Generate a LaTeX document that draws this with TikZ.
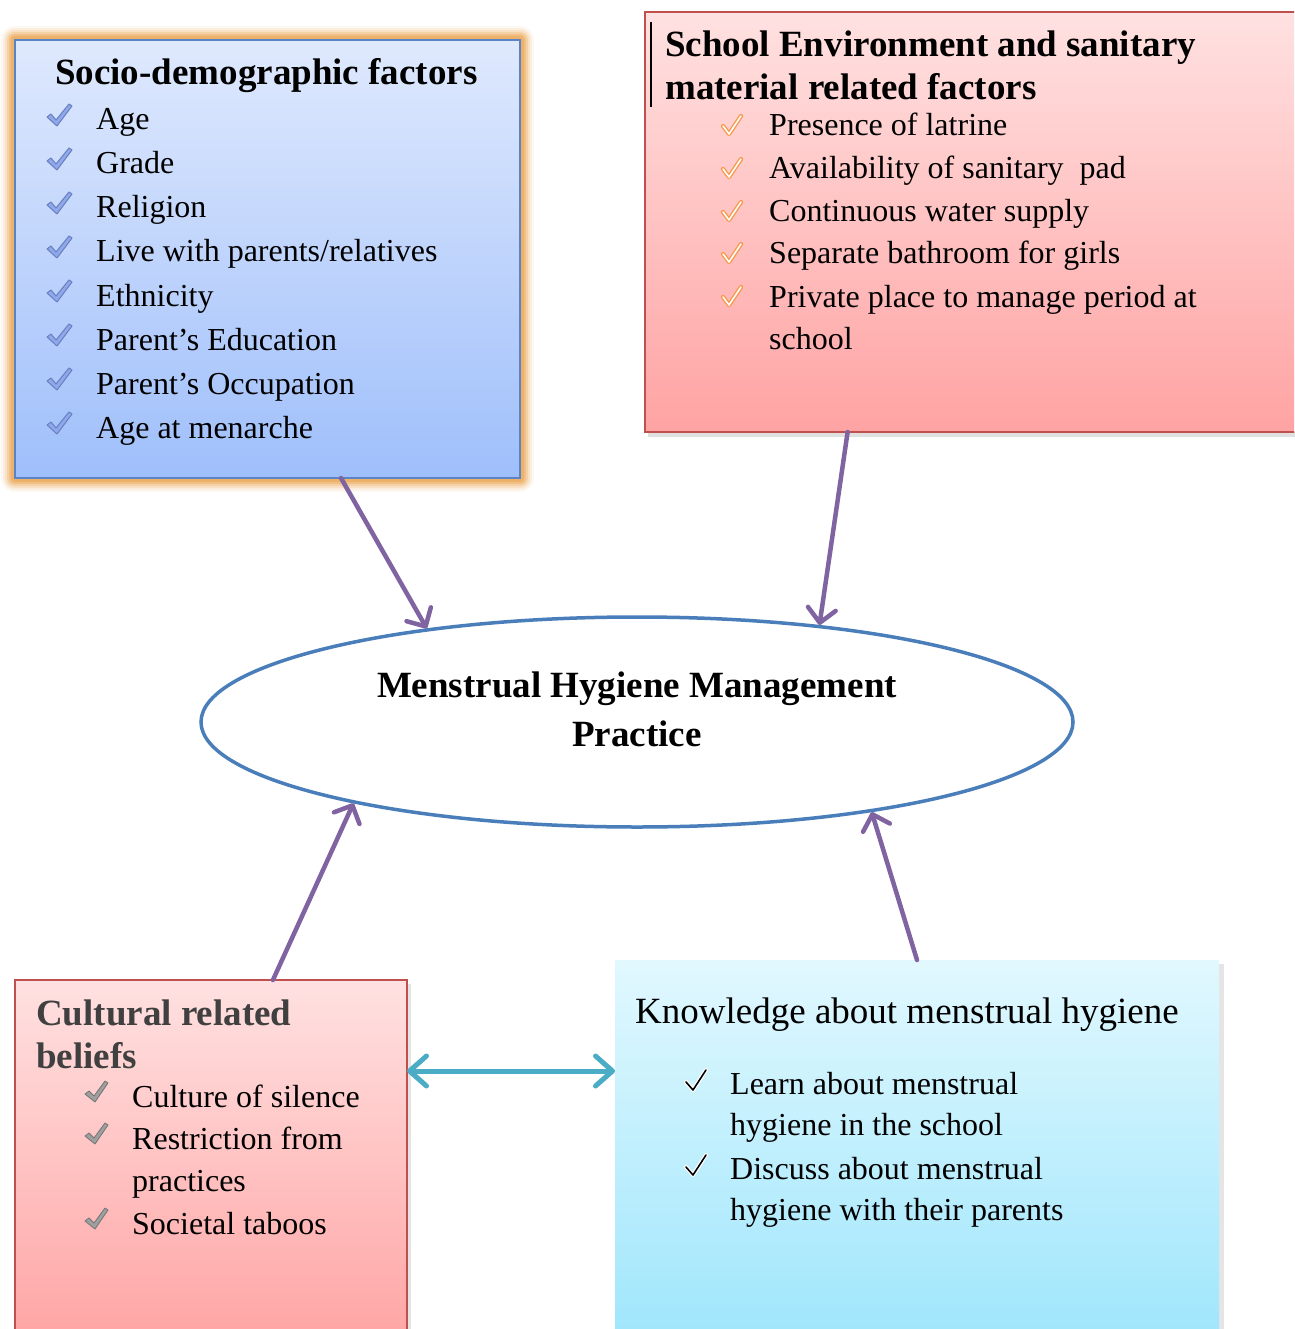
\documentclass[tikz,border=0pt]{standalone}
\usepackage{fontspec}
\setmainfont{Liberation Serif}
\usetikzlibrary{arrows.meta,calc,shapes.geometric,backgrounds}
\definecolor{bluetop}{HTML}{DFE9FD}
\definecolor{bluebot}{HTML}{9FBFFB}
\definecolor{blueline}{HTML}{5B84C4}
\definecolor{redtop}{HTML}{FFE1E1}
\definecolor{redbot}{HTML}{FFA3A3}
\definecolor{redline}{HTML}{C0504D}
\definecolor{knowtop}{HTML}{E1F8FE}
\definecolor{knowbot}{HTML}{9FE6FC}
\definecolor{purp}{HTML}{8064A2}
\definecolor{teal2}{HTML}{4BACC6}
\definecolor{ellc}{HTML}{4A7EBB}
\definecolor{glowc}{HTML}{EDA857}
\definecolor{chkblue}{HTML}{8FA8EC}
\definecolor{chkbluedk}{HTML}{6A80BE}
\definecolor{chkorange}{HTML}{F79646}
\definecolor{titlegray}{HTML}{404040}
\tikzset{
  bchk/.pic={\filldraw[fill=chkblue,draw=chkbluedk,line width=1pt,line join=round]
     (0,13)--(4,10)--(9,16)--(22,0)--(25,2)--(10,22)--cycle;},
  gchk/.pic={\filldraw[fill=gray!75,draw=gray!110,line width=0.8pt,line join=round]
     (0,13)--(4,10)--(9,15)--(20,0)--(23,2)--(10,21)--cycle;},
  ochk/.pic={\draw[chkorange,line width=4.2pt,line cap=round,line join=round] (1,11)--(7,19)--(19,1);
     \draw[white,line width=1.6pt,line cap=round,line join=round] (1,11)--(7,19)--(19,1);},
  kchk/.pic={\draw[white,line width=4pt,line cap=round,line join=round] (1,13)--(8,21)--(21,1);
     \draw[black,line width=1.6pt,line cap=round,line join=round] (1,13)--(8,21)--(21,1);},
}
\begin{document}
\begin{tikzpicture}[x=1pt,y=-1pt,
  box/.style={rectangle,anchor=north west,inner sep=0pt,outer sep=0pt},
  item/.style={anchor=base west,inner sep=0pt,font=\fontsize{32}{40}\selectfont},
  ttl/.style={anchor=base west,inner sep=0pt,font=\fontsize{37}{43}\selectfont\bfseries},
  parr/.style={draw=purp,line width=4.5pt,line cap=round,-{Straight Barb[length=14pt,width=28pt,round]}},
  tarr/.style={draw=teal2,line width=5pt,line cap=round,{Straight Barb[length=17pt,width=30pt,round]}-{Straight Barb[length=17pt,width=30pt,round]}},
]
\useasboundingbox (0,0) rectangle (1294,1329);
\clip (0,0) rectangle (1294,1329);

% boxes
\node[box,top color=bluetop,bottom color=bluebot,draw=blueline,line width=1.5pt,
      minimum width=505pt,minimum height=438pt] (socio) at (15,40) {};
\node[box,top color=redtop,bottom color=redbot,draw=redline,line width=1.5pt,
      minimum width=660pt,minimum height=420pt] (school) at (645,12) {};
\node[box,top color=redtop,bottom color=redbot,draw=redline,line width=1.5pt,
      minimum width=392pt,minimum height=370pt] (cult) at (15,980) {};
\node[box,top color=knowtop,bottom color=knowbot,
      minimum width=604pt,minimum height=380pt] (know) at (615,960) {};

\begin{scope}[on background layer]
  \fill[white] (0,0) rectangle (1294,1329);
  \foreach \w/\o in {28/0.08,24/0.12,20/0.18,16/0.28,12/0.4,8/0.6}
    \draw[glowc,line width=\w pt,opacity=\o,line join=round] (socio.south west) rectangle (socio.north east);
  \fill[black,opacity=0.12] ($(school.south west)+(3,0)$) rectangle ($(school.south east)+(0,5)$);
  \fill[black,opacity=0.10] ($(know.north east)+(0,4)$) rectangle ($(know.south east)+(5,0)$);
  \fill[black,opacity=0.10] ($(cult.north east)+(0,4)$) rectangle ($(cult.south east)+(4,0)$);
\end{scope}

% socio-demographic
\node[ttl] (sotitle) at (55,85) {Socio-demographic factors};
\foreach \b/\t/\n in {130/Age/s1,174/Grade/s2,218/Religion/s3,262/{Live with parents/relatives}/s4,
   306/Ethnicity/s5,350/Parent’s Education/s6,394/Parent’s Occupation/s7,438/Age at menarche/s8}{
  \pic at (47,\b-26) {bchk};
  \node[item] (\n) at (96,\b) {\t};
}

% school environment
\draw[black,line width=2pt] (651,22) -- (651,107);
\node[ttl] (sct1) at (665,57) {School Environment and sanitary};
\node[ttl] (sct2) at (665,100) {material related factors};
\foreach \b/\t/\n in {136/Presence of latrine/e1,179/Availability of sanitary\ \ pad/e2,
   222/Continuous water supply/e3,264/Separate bathroom for girls/e4,307/Private place to manage period at/e5}{
  \pic at (722,\b-21) {ochk};
  \node[item] (\n) at (769,\b) {\t};
}
\node[item] (e6) at (769,349) {school};

% ellipse
\node[ellipse,draw=ellc,line width=3.5pt,fill=white,minimum width=872pt,minimum height=210pt,inner sep=0pt] (mhm) at (637,722) {};
\node[anchor=base,inner sep=0pt,font=\fontsize{37}{43}\selectfont\bfseries] (m1) at (637,697) {Menstrual Hygiene Management};
\node[anchor=base,inner sep=0pt,font=\fontsize{37}{43}\selectfont\bfseries] (m2) at (637,746) {Practice};

% cultural
\node[ttl,text=titlegray] (ct1) at (36,1025) {Cultural related};
\node[ttl,text=titlegray] (ct2) at (36,1068) {beliefs};
\foreach \b/\t/\n in {1107/Culture of silence/c1,1149/Restriction from/c2,1234/Societal taboos/c4}{
  \pic at (85,\b-26) {gchk};
  \node[item] (\n) at (132,\b) {\t};
}
\node[item] (c3) at (132,1191) {practices};

% knowledge
\node[anchor=base west,inner sep=0pt,font=\fontsize{37}{43}\selectfont] (kt) at (635,1023) {Knowledge about menstrual hygiene};
\pic at (685,1094-25) {kchk};
\pic at (685,1179-25) {kchk};
\node[item] (k1) at (730,1094) {Learn about menstrual};
\node[item] (k2) at (730,1135) {hygiene in the school};
\node[item] (k3) at (730,1179) {Discuss about menstrual};
\node[item] (k4) at (730,1220) {hygiene with their parents};

% arrows
\draw[parr] ($(socio.south west)!0.6455!(socio.south east)$) -- (mhm.156);
\draw[parr] ($(school.south west)!0.307!(school.south east)$) -- (mhm.28);
\draw[parr] ($(cult.north west)!0.658!(cult.north east)$) -- (mhm.-164);
\draw[parr] ($(know.north west)!0.5!(know.north east)$) -- (mhm.-21);
\draw[tarr] ([yshift=94pt]cult.east) -- ([yshift=79pt]know.west);
\end{tikzpicture}
\end{document}
